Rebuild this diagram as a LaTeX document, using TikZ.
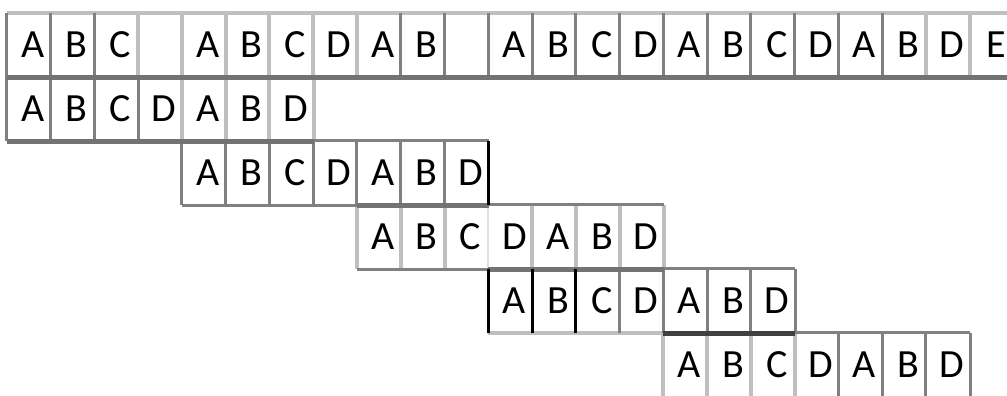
\documentclass[tikz,border=0pt]{standalone}
\usepackage{fontspec}
\setmainfont{Carlito}
\begin{document}
\begin{tikzpicture}[x=43.77pt, y=-64pt,
    cell/.style={inner sep=0pt, minimum width=43.77pt, minimum height=64pt,
                 font=\fontsize{40}{40}\selectfont,
                 execute at begin node=\hspace*{8pt}},
    lite/.style={draw=black!25, line width=4pt},
    mid/.style={draw=black!50, line width=3pt},
    dark/.style={draw=black!55, line width=5pt},
    blk/.style={draw=black, line width=3pt}]
  \useasboundingbox (-0.16,-0.2031) rectangle (22.847,5.984);

  % --- text row ---
  \foreach \l [count=\c from 0] in {A,B,C,{},A,B,C,D,A,B,{},A,B,C,D,A,B,C,D,A,B,D,E}
    \node[cell] (r0-\c) at (\c+0.5,0.5) {\l};

  % --- pattern, shifted row by row ---
  \foreach \r/\s in {1/0,2/4,3/8,4/11,5/15}
    \foreach \l [count=\i from 0] in {A,B,C,D,A,B,D} {
      \pgfmathtruncatemacro\c{\s+\i}
      \node[cell] (r\r-\c) at (\c+0.5,\r+0.5) {\l};
    }

  % --- light borders ---
  \draw[lite] (r0-0.north west) -- (r0-22.north east);
  \foreach \c in {3,...,8,21,22}
    \draw[lite] (r0-\c.north west) -- (r0-\c.south west);
  \foreach \c in {4,5,6}
    \draw[lite] (r1-\c.north west) -- (r1-\c.south west);
  \draw[lite] (r1-6.north east) -- (r1-6.south east);
  \foreach \c in {8,9,10,12,13,14}
    \draw[lite] (r3-\c.north west) -- (r3-\c.south west);
  \draw[lite] (r3-14.north east) -- (r3-14.south east);
  \draw[draw=black!12, line width=2pt] (r3-11.north west) -- (r3-11.south west);
  \draw[lite] (r4-11.south west) -- (r4-14.south east);
  \foreach \c in {15,...,18}
    \draw[lite] (r5-\c.north west) -- (r5-\c.south west);

  % --- grey borders ---
  \foreach \c in {0,1,2,9,10,...,20}
    \draw[mid] (r0-\c.north west) -- (r0-\c.south west);
  \foreach \c in {0,...,3}
    \draw[mid] (r1-\c.north west) -- (r1-\c.south west);
  \foreach \c in {4,...,10}
    \draw[mid] (r2-\c.north west) -- (r2-\c.south west);
  \draw[mid] (r2-7.north west) -- (r2-10.north east);
  \draw[mid] (r2-4.south west) -- (r2-7.south east);
  \draw[mid] (r3-11.north west) -- (r3-14.north east);
  \draw[mid] (r3-8.south west) -- (r3-10.south east);
  \foreach \c in {14,...,17}
    \draw[mid] (r4-\c.north west) -- (r4-\c.south west);
  \draw[mid] (r4-17.north east) -- (r4-17.south east);
  \draw[mid] (r4-15.north west) -- (r4-17.north east);
  \foreach \c in {19,20,21}
    \draw[mid] (r5-\c.north west) -- (r5-\c.south west);
  \draw[mid] (r5-21.north east) -- (r5-21.south east);
  \draw[mid] (r5-18.north west) -- (r5-21.north east);

  % --- dark borders ---
  \draw[dark] (r0-0.south west) -- (r0-22.south east);
  \draw[dark] (r1-0.south west) -- (r1-6.south east);
  \draw[dark] (r2-8.south west) -- (r2-10.south east);
  \draw[dark] (r3-11.south west) -- (r3-14.south east);
  \draw[dark, draw=black!75] (r4-15.south west) -- (r4-17.south east);

  % --- black borders ---
  \draw[blk] (r2-10.north east) -- (r2-10.south east);
  \foreach \c in {11,12,13}
    \draw[blk] (r4-\c.north west) -- (r4-\c.south west);
\end{tikzpicture}
\end{document}
